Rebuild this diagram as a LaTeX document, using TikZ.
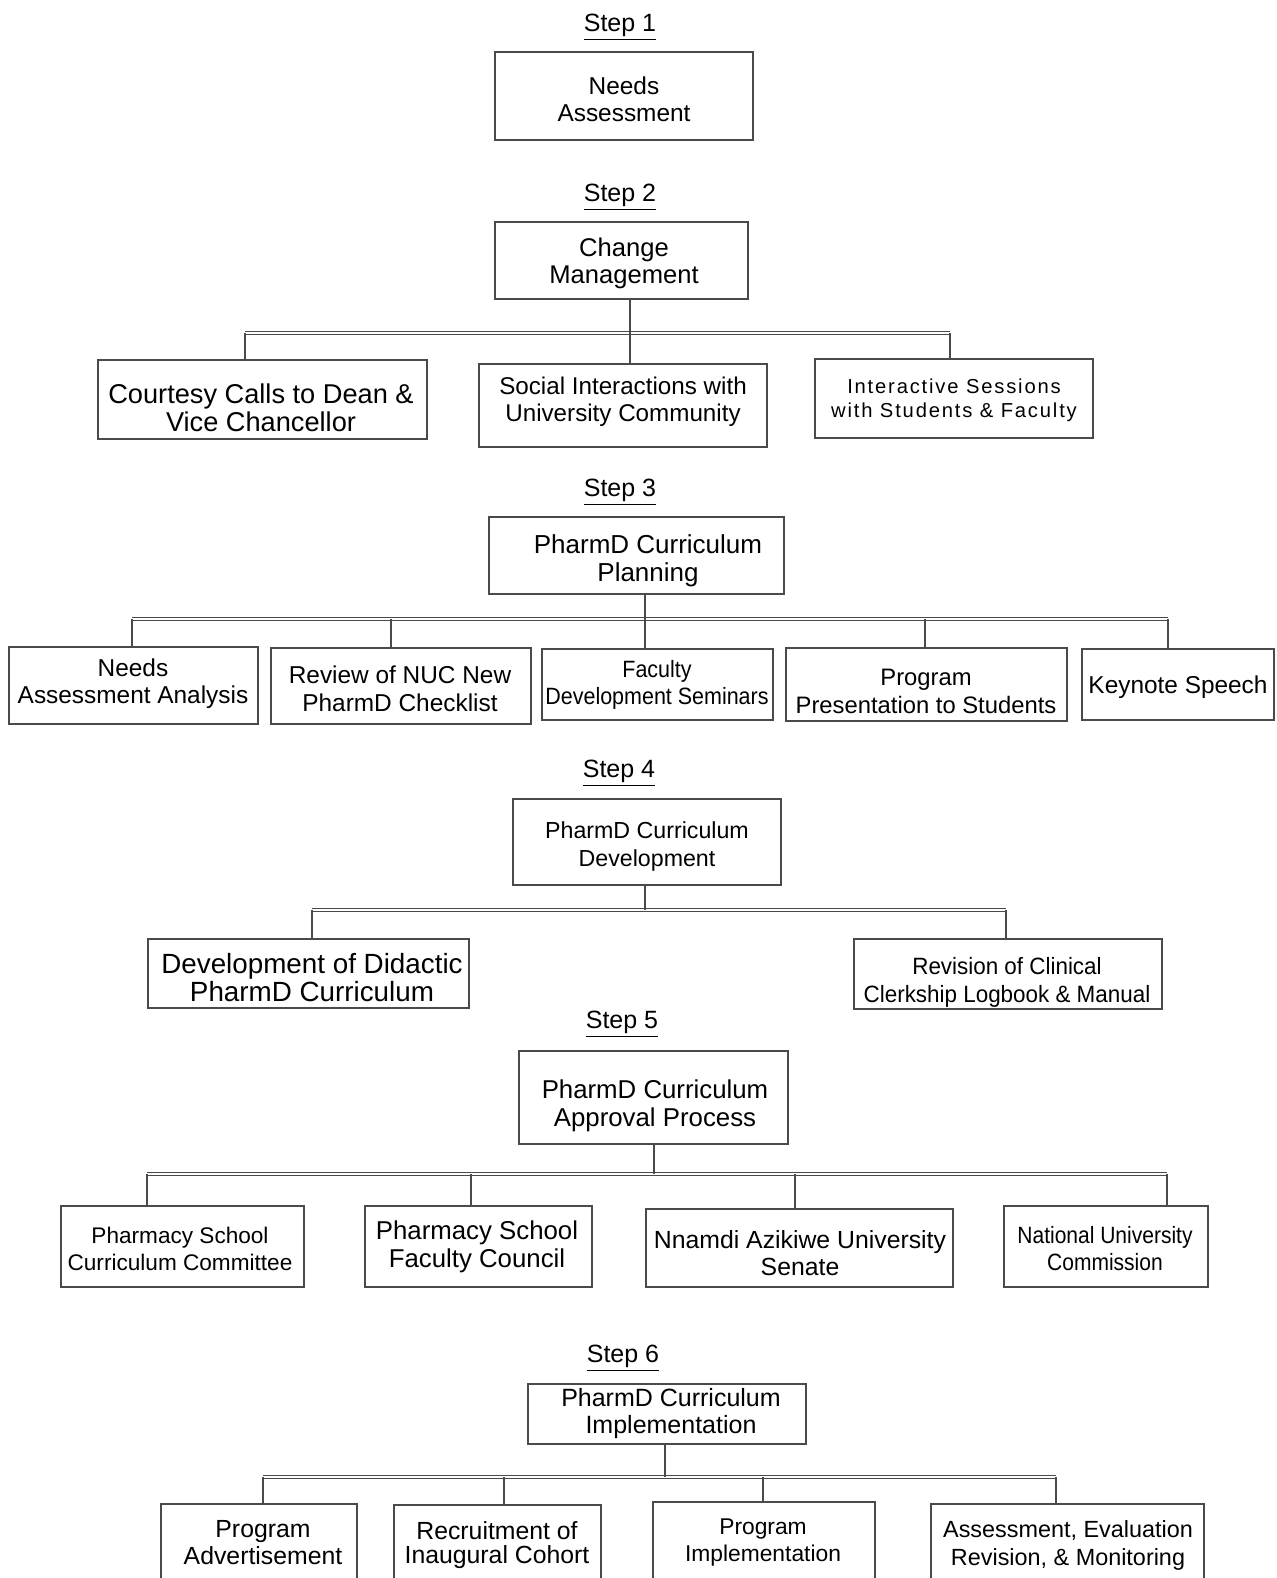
\documentclass[tikz,border=0pt]{standalone}
\usepackage{fontspec}
\setmainfont{Liberation Sans}
\newfontfamily\narrowA[FakeStretch=0.91]{Liberation Sans}
\newfontfamily\narrowB[FakeStretch=0.95]{Liberation Sans}
\newfontfamily\narrowC[FakeStretch=0.89]{Liberation Sans}
\newfontfamily\spacedfont[LetterSpace=9]{Liberation Sans}
\usetikzlibrary{fit}
\definecolor{edge}{HTML}{4A4A4A}
\tikzset{
  boxs/.style={draw=edge, line width=0.7pt, inner sep=0pt},
  txt/.style={align=center, inner sep=0pt, text=black, yshift=-1pt},
  steplabel/.style={inner sep=0pt, font=\fontsize{12.5}{14}\selectfont},
  conn/.style={draw=edge, line width=0.7pt},
  bar/.style={draw=edge, line width=0.45pt, double=white, double distance=1.1pt}
}
\newcommand{\bx}[9]{%
  \node[boxs, fit={(#2,#3) (#4,#5)}] (#1) {};
  \node[txt, font=#8] (#1-t) at (#6,#7) {#9};
}
\newcommand{\fz}[2]{\fontsize{#1}{#2}\selectfont}
\begin{document}
\begin{tikzpicture}[x=0.5pt,y=-0.5pt]
\useasboundingbox (0,0) rectangle (1277,1578);
\clip (0,0) rectangle (1277,1578);

% Step labels
\node[steplabel] (s1) at (620,27) {\underline{Step 1}};
\node[steplabel] (s2) at (620,197) {\underline{Step 2}};
\node[steplabel] (s3) at (620,492) {\underline{Step 3}};
\node[steplabel] (s4) at (619,773) {\underline{Step 4}};
\node[steplabel] (s5) at (622,1024) {\underline{Step 5}};
\node[steplabel] (s6) at (623,1358) {\underline{Step 6}};

% Step 1
\bx{na}{495}{52}{753}{140}{624}{97}{\fz{12.2}{13.5}}{Needs\\Assessment}

% Step 2
\bx{cm}{495}{222}{748}{299}{624}{261}{\fz{12.8}{13.5}}{Change\\Management}
\bx{cc}{98}{360}{427}{439}{261}{406}{\fz{13.6}{14}}{Courtesy Calls to Dean \&\\Vice Chancellor}
\bx{si}{479}{364}{767}{447}{623}{400}{\fz{12.1}{13.7}}{Social Interactions with\\University Community}
\bx{is}{815}{359}{1093}{438}{954}{398}{\spacedfont\fz{10.1}{12}}{Interactive Sessions\\with Students \& Faculty}

% Step 3
\bx{pp}{489}{517}{784}{594}{648}{559}{\fz{13}{14}}{PharmD Curriculum\\Planning}
\bx{naa}{9}{647}{258}{724}{133}{682}{\fz{12.2}{13.5}}{Needs\\Assessment Analysis}
\bx{rn}{271}{648}{531}{724}{400}{687}{\fz{12.2}{14}}{Review of NUC New\\PharmD Checklist}
\bx{fd}{542}{649}{773}{720}{657}{683}{\narrowA\fz{11.8}{13.5}}{Faculty\\Development Seminars}
\bx{pps}{786}{648}{1067}{721}{926}{689}{\fz{11.9}{14}}{Program\\Presentation to Students}
\bx{ks}{1082}{649}{1274}{720}{1178}{685}{\fz{12.2}{14}}{Keynote Speech}

% Step 4
\bx{pd}{513}{799}{781}{885}{647}{844}{\fz{11.6}{14}}{PharmD Curriculum\\Development}
\bx{dd}{148}{939}{469}{1008}{312}{976}{\fz{13.9}{14}}{Development of Didactic\\PharmD Curriculum}
\bx{rc}{854}{939}{1162}{1009}{1007}{980}{\narrowB\fz{11.8}{14}}{Revision of Clinical\\Clerkship Logbook \& Manual}

% Step 5
\bx{ap}{519}{1051}{788}{1144}{655}{1104}{\fz{12.9}{14}}{PharmD Curriculum\\Approval Process}
\bx{psc}{61}{1206}{304}{1287}{180}{1247}{\fz{11.3}{13.5}}{Pharmacy School\\Curriculum Committee}
\bx{pfc}{365}{1206}{592}{1287}{477}{1245}{\fz{12.9}{14}}{Pharmacy School\\Faculty Council}
\bx{nau}{646}{1209}{953}{1287}{800}{1251}{\fz{12.4}{13.5}}{Nnamdi Azikiwe University\\Senate}
\bx{nuc}{1004}{1206}{1208}{1287}{1105}{1247}{\narrowC\fz{11.8}{13.5}}{National University\\Commission}

% Step 6
\bx{im}{528}{1384}{806}{1444}{671}{1412}{\fz{12.5}{13.5}}{PharmD Curriculum\\Implementation}
\bx{pa}{161}{1504}{357}{1600}{263}{1541}{\fz{12.4}{13.5}}{Program\\Advertisement}
\bx{ri}{394}{1505}{601}{1600}{497}{1543}{\fz{12.4}{12.2}}{Recruitment of\\Inaugural Cohort}
\bx{pi}{653}{1502}{875}{1600}{763}{1541}{\fz{11.4}{13.5}}{Program\\Implementation}
\bx{ae}{931}{1504}{1204}{1600}{1068}{1543}{\fz{11.7}{14}}{Assessment, Evaluation\\Revision, \& Monitoring}

% Bar coordinates
\coordinate (b2l) at (245,333); \coordinate (b2r) at (950,333); \coordinate (b2p) at (630,333);
\coordinate (b3l) at (132,619); \coordinate (b3r) at (1168,619); \coordinate (b3p) at (645,619);
\coordinate (b3a) at (391,619); \coordinate (b3b) at (925,619);
\coordinate (b4l) at (312,910); \coordinate (b4r) at (1006,910); \coordinate (b4p) at (645,910);
\coordinate (b5l) at (147,1174); \coordinate (b5r) at (1167,1174); \coordinate (b5p) at (654,1174);
\coordinate (b5a) at (471,1174); \coordinate (b5b) at (795,1174);
\coordinate (b6l) at (263,1477); \coordinate (b6r) at (1056,1477); \coordinate (b6p) at (665,1477);
\coordinate (b6a) at (504,1477); \coordinate (b6b) at (763,1477);

% Bars
\draw[bar] (b2l) -- (b2r);
\draw[bar] (b3l) -- (b3r);
\draw[bar] (b4l) -- (b4r);
\draw[bar] (b5l) -- (b5r);
\draw[bar] (b6l) -- (b6r);

% Step 2 connectors
\draw[conn] (cm.south -| b2p) -- (si.north -| b2p);
\draw[conn] (b2l) -- (b2l |- cc.north);
\draw[conn] (b2r) -- (b2r |- is.north);

% Step 3 connectors
\draw[conn] (pp.south -| b3p) -- (fd.north -| b3p);
\draw[conn] (b3l) -- (b3l |- naa.north);
\draw[conn] (b3a) -- (b3a |- rn.north);
\draw[conn] (b3b) -- (b3b |- pps.north);
\draw[conn] (b3r) -- (b3r |- ks.north);

% Step 4 connectors
\draw[conn] (pd.south -| b4p) -- (b4p);
\draw[conn] (b4l) -- (b4l |- dd.north);
\draw[conn] (b4r) -- (b4r |- rc.north);

% Step 5 connectors
\draw[conn] (ap.south -| b5p) -- (b5p);
\draw[conn] (b5l) -- (b5l |- psc.north);
\draw[conn] (b5a) -- (b5a |- pfc.north);
\draw[conn] (b5b) -- (b5b |- nau.north);
\draw[conn] (b5r) -- (b5r |- nuc.north);

% Step 6 connectors
\draw[conn] (im.south -| b6p) -- (b6p);
\draw[conn] (b6l) -- (b6l |- pa.north);
\draw[conn] (b6a) -- (b6a |- ri.north);
\draw[conn] (b6b) -- (b6b |- pi.north);
\draw[conn] (b6r) -- (b6r |- ae.north);
\end{tikzpicture}
\end{document}
